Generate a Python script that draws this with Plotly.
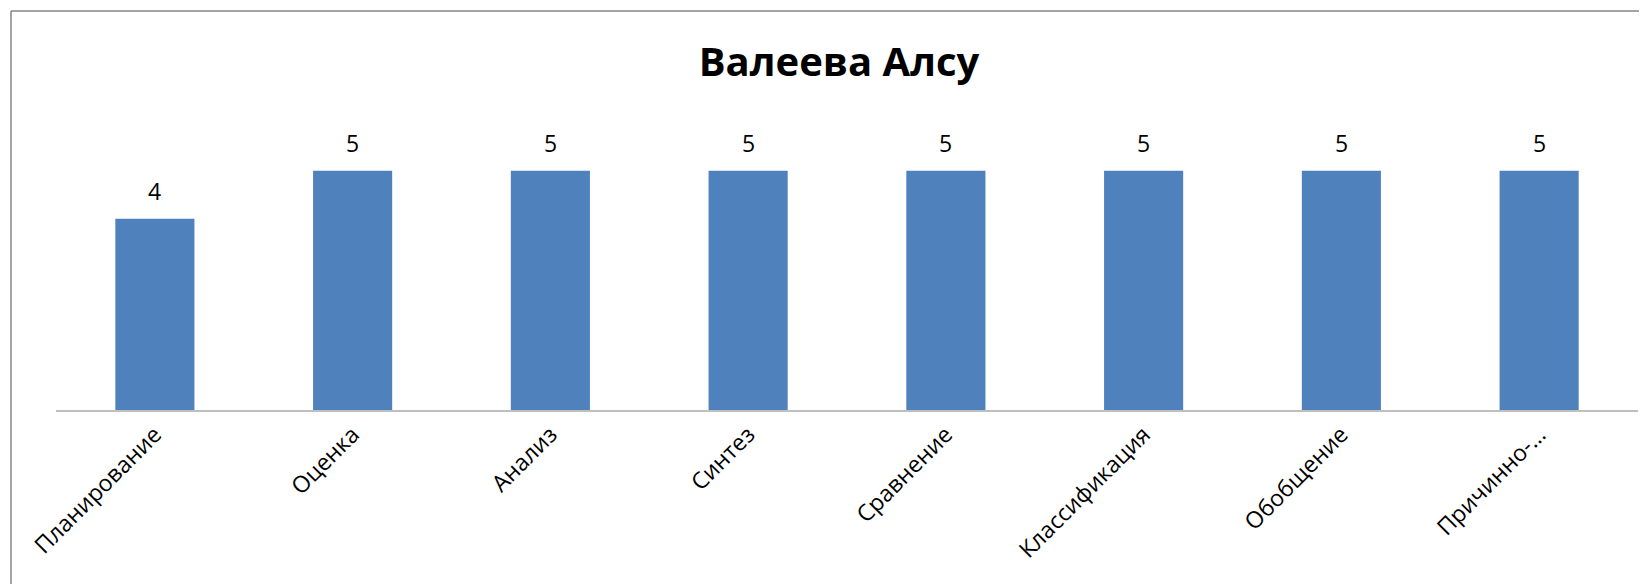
import plotly.graph_objects as go

categories = ["Планирование", "Оценка", "Анализ", "Синтез", "Сравнение",
              "Классификация", "Обобщение", "Причинно-…"]
values = [4, 5, 5, 5, 5, 5, 5, 5]
title_text = "Валеева Алсу"

OFF = 8  # page body margin
W, H = 1647 - OFF, 584 - OFF
FONT = "Open Sans"

L, R, T, B = 56 - OFF, 1647 - 1638, 123 - OFF, 584 - 410
PW, PH = W - L - R, H - T - B

fig = go.Figure()
fig.add_trace(go.Bar(
    x=categories, y=values,
    marker=dict(color="#4F81BD", line=dict(width=0)),
    width=0.4,
    hoverinfo="skip",
))

for c, v in zip(categories, values):
    fig.add_annotation(x=c, y=v, text=str(v), showarrow=False,
                       yanchor="bottom", yshift=10,
                       font=dict(family=FONT, size=23, color="#000"))

fig.update_layout(
    width=W, height=H,
    margin=dict(l=L, r=R, t=T, b=B, autoexpand=False),
    paper_bgcolor="white", plot_bgcolor="white",
    showlegend=False,
    title=dict(text="<b>" + title_text + "</b>", x=0.5 - 8 / PW, xanchor="center",
               xref="paper", y=1 - (62 - OFF) / H, yanchor="middle", yref="container",
               font=dict(family=FONT, size=40, color="#000")),
    xaxis=dict(showgrid=False, showline=True, linecolor="#BFBFBF", linewidth=2,
               ticks="", tickangle=-45, automargin=False,
               tickfont=dict(family=FONT, size=23, color="#000")),
    yaxis=dict(range=[0, 6], showgrid=False, showline=False, zeroline=False,
               showticklabels=False, ticks="", automargin=False),
    font=dict(family=FONT),
)

fy = 1 + (T - (11 - OFF)) / PH
fx = ((11 - OFF) - L) / PW
fig.add_shape(type="line", xref="paper", yref="paper",
              x0=fx, x1=1.01, y0=fy, y1=fy,
              line=dict(color="#868686", width=1.5))
fig.add_shape(type="line", xref="paper", yref="paper",
              x0=fx, x1=fx, y0=fy, y1=-0.7,
              line=dict(color="#868686", width=1.5))

fig.write_html("out.html")
